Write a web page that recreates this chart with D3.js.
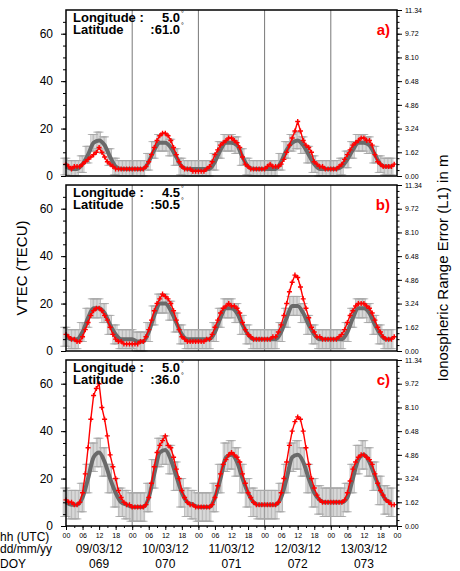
<!DOCTYPE html>
<html><head><meta charset="utf-8">
<script src="https://cdn.jsdelivr.net/npm/d3@7"></script>
<style>body{margin:0;background:#fff}svg{font-family:Helvetica,"Liberation Sans",Arial,sans-serif}</style>
</head><body><svg id="chart" width="460" height="571"></svg>
<script>
// Hourly observed VTEC (red), one row per day, per station
const redA = [
  [5,4,3,4,4,4,5,6,7,8,9,10,12,10,8,6,5,4,3,3,3,3,3,3],
  [3,3,3,3,3,4,6,9,12,15,17,18,18,17,15,12,9,6,4,3,3,3,2,2],
  [2,2,2,3,4,6,9,11,13,14,15,16,16,15,14,12,8,5,4,3,3,3,3,3],
  [3,4,5,4,4,4,5,7,10,13,16,19,23,19,15,13,12,10,6,5,4,4,3,3],
  [3,3,3,4,5,7,9,11,13,14,15,16,16,15,15,13,9,6,5,4,4,4,4,5]];
const redB = [
  [7,6,5,5,4,4,6,9,12,15,17,18,18,17,15,13,10,7,5,4,4,3,3,3],
  [3,3,3,4,4,6,9,13,17,20,22,24,23,22,20,17,13,9,6,5,4,4,4,4],
  [4,4,4,5,5,7,10,13,16,18,19,20,19,19,18,16,12,9,7,6,5,5,5,5],
  [5,5,5,6,6,8,11,15,20,25,29,32,31,27,22,18,14,10,8,6,6,5,5,5],
  [5,5,5,6,7,9,12,15,17,19,20,20,20,19,18,16,13,10,8,6,5,5,5,6]];
const redC = [
  [11,10,10,9,9,10,14,22,33,45,55,58,60,50,45,38,30,25,20,15,12,10,9,9],
  [8,8,8,8,8,9,12,18,25,31,34,36,38,34,33,29,24,20,15,12,10,9,9,8],
  [8,8,8,8,8,9,12,17,22,26,28,30,31,30,29,27,22,18,14,12,10,9,9,9],
  [9,9,9,9,9,10,14,20,27,34,40,44,46,45,40,33,26,20,16,13,11,10,10,10],
  [10,10,10,10,10,11,14,19,24,27,29,30,30,29,28,26,22,18,15,13,11,10,9,9]];
// Two-hourly mean VTEC (grey) and its spread
const greyA = [
  [4,3,3,5,9,14,15,13,8,4,3,3],
  [3,3,3,6,11,14,14,12,8,4,3,3],
  [3,3,3,6,11,14,14,13,8,4,3,3],
  [3,3,3,6,11,14,15,13,9,5,3,3],
  [3,3,4,7,11,14,14,13,9,5,4,4]];
const greyB = [
  [6,5,5,8,14,18,18,16,11,7,5,5],
  [5,4,4,8,15,20,20,17,12,7,5,5],
  [5,5,5,8,14,18,18,16,11,7,5,5],
  [5,5,5,8,14,19,19,16,11,7,5,5],
  [5,5,5,8,14,18,18,16,11,7,5,5]];
const greyC = [
  [10,9,9,12,20,29,31,27,20,14,10,9],
  [8,8,8,12,22,31,32,28,21,14,10,9],
  [8,8,8,12,20,29,30,27,20,14,10,9],
  [9,9,9,12,20,29,30,27,20,14,11,10],
  [10,10,10,12,20,28,30,27,21,15,11,10]];
const spread = [3.5, 4, 6];
const panels = [
  {lon:'5.0', lat:'61.0', tag:'a)', red:redA, grey:greyA},
  {lon:'4.5', lat:'50.5', tag:'b)', red:redB, grey:greyB},
  {lon:'5.0', lat:'36.0', tag:'c)', red:redC, grey:greyC}];
const dates = ['09/03/12','10/03/12','11/03/12','12/03/12','13/03/12'];
const doys = ['069','070','071','072','073'];
const rightTicks = [0, 1.62, 3.24, 4.86, 6.48, 8.10, 9.72, 11.34];

const svg = d3.select('#chart');
const x = d3.scaleLinear().domain([0, 120]).range([66, 397]);
const tops = [10, 185, 360], ph = 166;

panels.forEach((p, pi) => {
  const y = d3.scaleLinear().domain([0, 70]).range([tops[pi] + ph, tops[pi]]);
  const yr = d3.scaleLinear().domain([0, 11.34]).range([tops[pi] + ph, tops[pi]]);
  const g = svg.append('g');

  // day separators
  g.selectAll('.sep').data([24, 48, 72, 96]).enter().append('line')
    .attr('x1', d => x(d)).attr('x2', d => x(d))
    .attr('y1', tops[pi]).attr('y2', tops[pi] + ph)
    .attr('stroke', '#555').attr('stroke-width', 0.8);

  // grey mean with error bars
  const gpts = [];
  p.grey.forEach((day, di) => day.forEach((v, k) => gpts.push([di * 24 + k * 2, v])));
  const sd = spread[pi];
  const eb = g.append('g').attr('stroke', '#a8a8a8').attr('stroke-width', 0.8);
  gpts.forEach(([h, v]) => {
    [-1, -0.5, 0, 0.5].forEach(o => {
      const hh = h + o;
      eb.append('line').attr('x1', x(hh)).attr('x2', x(hh))
        .attr('y1', y(Math.max(0, v - sd))).attr('y2', y(v + sd));
      eb.append('line').attr('x1', x(hh) - 3).attr('x2', x(hh) + 3)
        .attr('y1', y(v + sd)).attr('y2', y(v + sd));
      eb.append('line').attr('x1', x(hh) - 3).attr('x2', x(hh) + 3)
        .attr('y1', y(Math.max(0, v - sd))).attr('y2', y(Math.max(0, v - sd)));
    });
  });
  g.append('path').datum(gpts)
    .attr('d', d3.line().x(d => x(d[0])).y(d => y(d[1])).curve(d3.curveMonotoneX))
    .attr('fill', 'none').attr('stroke', '#6a6a6a').attr('stroke-width', 4);

  // red observations
  const rpts = [];
  p.red.forEach((day, di) => day.forEach((v, k) => rpts.push([di * 24 + k, v])));
  g.append('path').datum(rpts)
    .attr('d', d3.line().x(d => x(d[0])).y(d => y(d[1])))
    .attr('fill', 'none').attr('stroke', '#ff0000').attr('stroke-width', 1.4);
  g.selectAll('.m').data(rpts).enter().append('path')
    .attr('d', d => `M${x(d[0]) - 2.5},${y(d[1])}h5M${x(d[0])},${y(d[1]) - 2.5}v5`)
    .attr('stroke', '#ff0000').attr('stroke-width', 1.4);

  // frame
  g.append('rect').attr('x', x(0)).attr('y', tops[pi]).attr('width', x(120) - x(0))
    .attr('height', ph).attr('fill', 'none').attr('stroke', '#000').attr('stroke-width', 1.5);

  // left axis
  const la = g.append('g').attr('transform', `translate(${x(0)},0)`)
    .call(d3.axisLeft(y).tickValues([0, 20, 40, 60]).tickSize(5).tickPadding(8));
  la.select('.domain').remove();
  la.selectAll('text').attr('font-size', 12).attr('fill', '#000');
  g.append('g').attr('transform', `translate(${x(0)},0)`)
    .call(d3.axisLeft(y).tickValues(d3.range(5, 70, 5)).tickSize(3).tickFormat(''))
    .select('.domain').remove();

  // right axis
  const ra = g.append('g').attr('transform', `translate(${x(120)},0)`)
    .call(d3.axisRight(yr).tickValues(rightTicks).tickSize(5).tickFormat(d3.format('.2f')));
  ra.select('.domain').remove();
  ra.selectAll('text').attr('font-size', 7).attr('fill', '#000');
  g.append('g').attr('transform', `translate(${x(120)},0)`)
    .call(d3.axisRight(yr).tickValues(d3.range(0.405, 11.34, 0.405)).tickSize(2.5).tickFormat(''))
    .select('.domain').remove();

  // station label
  g.append('text').attr('x', 73).attr('y', tops[pi] + 12).attr('font-size', 13)
    .attr('font-weight', 'bold').text('Longitude :');
  g.append('text').attr('x', 180).attr('y', tops[pi] + 12).attr('font-size', 13)
    .attr('font-weight', 'bold').attr('text-anchor', 'end').text(p.lon);
  g.append('text').attr('x', 73).attr('y', tops[pi] + 24).attr('font-size', 13)
    .attr('font-weight', 'bold').text('Latitude');
  g.append('text').attr('x', 180).attr('y', tops[pi] + 24).attr('font-size', 13)
    .attr('font-weight', 'bold').attr('text-anchor', 'end').text(':' + p.lat);
  [12, 24].forEach(dy => g.append('text').attr('x', 181).attr('y', tops[pi] + dy - 6)
    .attr('font-size', 7).text('°'));
  g.append('text').attr('x', 390).attr('y', tops[pi] + 25).attr('text-anchor', 'end')
    .attr('font-size', 15).attr('font-weight', 'bold').attr('fill', '#ff0000').text(p.tag);
});

// bottom time axis
const bottom = tops[2] + ph;
const hrs = d3.range(0, 121, 6);
const ba = svg.append('g').attr('transform', `translate(0,${bottom})`)
  .call(d3.axisBottom(x).tickValues(hrs).tickSize(4).tickPadding(3)
    .tickFormat(d => String(d % 24).padStart(2, '0')));
ba.select('.domain').remove();
ba.selectAll('text').attr('font-size', 7).attr('fill', '#000');
svg.append('g').attr('transform', `translate(0,${bottom})`)
  .call(d3.axisBottom(x).tickValues(d3.range(0, 121, 3)).tickSize(2).tickFormat(''))
  .select('.domain').remove();

svg.selectAll('.date').data(dates).enter().append('text')
  .attr('x', (d, i) => x(i * 24 + 12)).attr('y', 553).attr('text-anchor', 'middle')
  .attr('font-size', 12).text(d => d);
svg.selectAll('.doy').data(doys).enter().append('text')
  .attr('x', (d, i) => x(i * 24 + 12)).attr('y', 568).attr('text-anchor', 'middle')
  .attr('font-size', 12).text(d => d);
[['hh (UTC)', 541], ['dd/mm/yy', 553], ['DOY', 568]].forEach(([s, yy]) =>
  svg.append('text').attr('x', 0).attr('y', yy).attr('font-size', 12).text(s));

svg.append('text').attr('transform', `translate(27,${(tops[0] + bottom) / 2}) rotate(-90)`)
  .attr('text-anchor', 'middle').attr('font-size', 15).text('VTEC (TECU)');
svg.append('text').attr('transform', `translate(448,${(tops[0] + bottom) / 2}) rotate(-90)`)
  .attr('text-anchor', 'middle').attr('font-size', 15).text('Ionospheric Range Error (L1) in m');
</script></body></html>
